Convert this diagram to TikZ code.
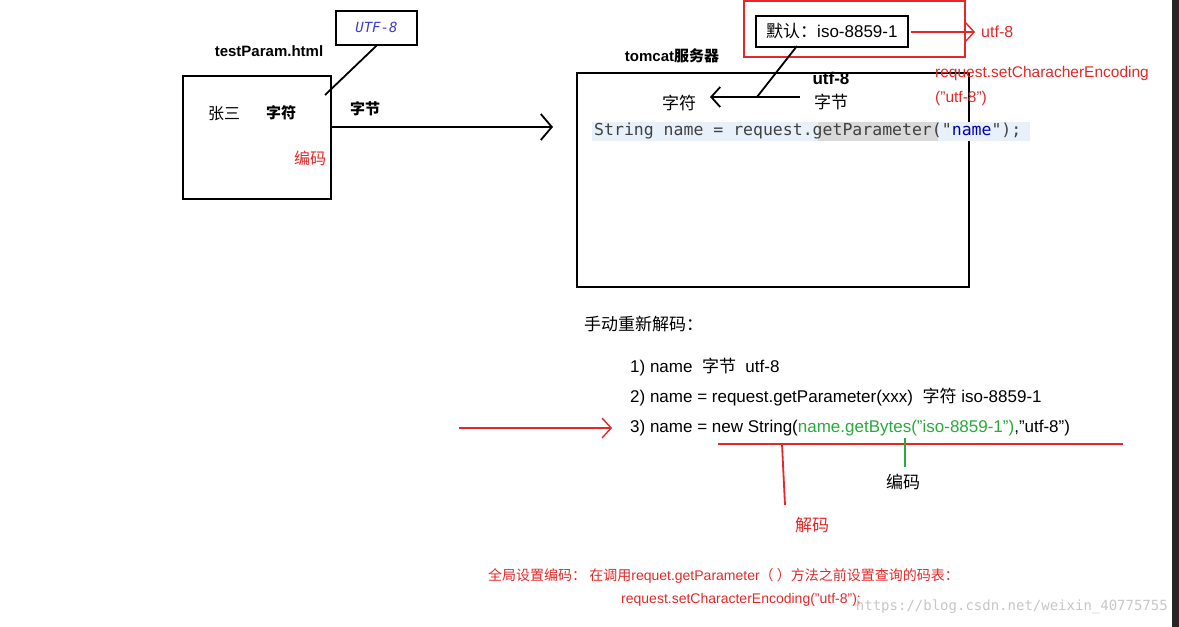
\documentclass[tikz,border=0pt]{standalone}
\usepackage{fontspec}
\setmainfont{Liberation Sans}
\newfontfamily\cjk{Noto Sans CJK SC}
\setmonofont{DejaVu Sans Mono}
\usetikzlibrary{arrows.meta}
\definecolor{redline}{RGB}{228,40,40}
\definecolor{codegreen}{RGB}{40,170,60}
\definecolor{codebg}{RGB}{232,240,250}
\newcommand{\zh}[1]{{\cjk #1}}
\begin{document}
\begin{tikzpicture}[x=1pt,y=-1pt,
  box/.style={draw=black,line width=1.8pt},
  conn/.style={line width=1.8pt},
  bigarrow/.style={conn,-{Straight Barb[length=11pt,width=26pt,line width=1.8pt]}},
  redarrow/.style={redline,line width=1.4pt,-{Straight Barb[length=9pt,width=20pt]}},
  txt/.style={font=\fontsize{16}{18}\selectfont,inner sep=1pt},
  bold/.style={txt,font=\fontsize{15}{18}\selectfont\bfseries},
  redtxt/.style={txt,text=redline}]
\useasboundingbox (0,0) rectangle (1179,627);
% client page
\node[box,minimum width=148pt,minimum height=123pt,anchor=north west] (page) at (182,75) {};
\node[bold] (pagelbl) at (269,51) {testParam.html};
\node[txt] (zs) at (224,114) {\zh{张三}};
\node[bold] (zf1) at (281,113) {\zh{\bfseries 字符}};
\node[redtxt] (enc1) at (310,158) {\zh{编码}};
\node[box,minimum width=81pt,minimum height=34pt,anchor=north west,
  font=\ttfamily\itshape\fontsize{14}{16}\selectfont,text={rgb,255:red,60;green,60;blue,220}] (utf) at (335,10) {UTF-8};
\draw[conn] (utf.south) -- (325,95);
\node[bold] (zj1) at (365,109) {\zh{\bfseries 字节}};
\coordinate (sendA) at (330,127);
\coordinate (sendB) at (553,127);
\draw[bigarrow] (sendA) -- (sendB);
% server
\node[box,minimum width=392pt,minimum height=214pt,anchor=north west] (tomcat) at (576,72) {};
\node[bold] (tomcatlbl) at (672,56) {tomcat\zh{\bfseries 服务器}};
\node[draw=redline,line width=1.8pt,minimum width=221pt,minimum height=56pt,anchor=north west] (redbox) at (743,0) {};
\node[box,minimum width=152pt,minimum height=31pt,anchor=north west,txt,font=\fontsize{17}{19}\selectfont,inner sep=0pt] (dflt) at (755,15) {\zh{默认：}iso-8859-1};
\coordinate (rA) at (911,32);
\coordinate (rB) at (975,32);
\draw[redarrow] (rA) -- (rB);
\node[redtxt,anchor=west] (rutf) at (980,32) {utf-8};
\node[redtxt,anchor=west,font=\fontsize{15.5}{18}\selectfont] (rset1) at (934,73) {request.setCharacherEncoding};
\node[redtxt,anchor=west,font=\fontsize{15.5}{18}\selectfont] (rset2) at (934,98) {("utf-8")};
\node[txt,font=\fontsize{17}{19}\selectfont] (zf2) at (679,103) {\zh{字符}};
\node[bold,font=\fontsize{17}{19}\selectfont\bfseries] (utf2) at (831,78) {utf-8};
\node[txt,font=\fontsize{17}{19}\selectfont] (zj2) at (831,102) {\zh{字节}};
\coordinate (decA) at (800,97);
\coordinate (decB) at (710,97);
\draw[bigarrow,-{Straight Barb[length=9pt,width=20pt,line width=1.8pt]}] (decA) -- (decB);
\draw[conn] (797,46) -- (757,97);
\fill[codebg] (592,122) rectangle (1030,141);
\fill[black!15] (818,122) rectangle (938,141);
\node[anchor=west,inner sep=0pt,font=\ttfamily\fontsize{16.5}{18}\selectfont,text=black!75] (code) at (594,131)
  {String name = request.getParameter("\textcolor{blue!70!black}{name}");};
% manual decoding
\node[txt,anchor=west,font=\fontsize{17}{19}\selectfont] (manual) at (583,324) {\zh{手动重新解码：}};
\node[txt,anchor=west,font=\fontsize{17}{19}\selectfont] (s1) at (629,367) {1) name\ \ \zh{字节}\ \ utf-8};
\node[txt,anchor=west,font=\fontsize{17}{19}\selectfont] (s2) at (629,397) {2) name = request.getParameter(xxx)\ \ \zh{字符} iso-8859-1};
\node[txt,anchor=west,font=\fontsize{17}{19}\selectfont] (s3) at (629,428)
  {3) name = new String(\textcolor{codegreen}{name.getBytes("iso-8859-1")},"utf-8")};
\coordinate (pA) at (459,428);
\coordinate (pB) at (612,428);
\draw[redarrow] (pA) -- (pB);
\draw[redline,line width=1.8pt] (718,444) -- (1123,444);
\draw[redline,line width=1.8pt] (782,444) -- (785,505);
\draw[codegreen,line width=1.8pt] (905,438) -- (905,467);
\node[redtxt,font=\fontsize{17}{19}\selectfont] (dec) at (812,525) {\zh{解码}};
\node[txt,font=\fontsize{17}{19}\selectfont] (enc2) at (903,482) {\zh{编码}};
% global setting
\node[redtxt,anchor=west,font=\fontsize{14}{16}\selectfont] (g1) at (487,576) {\zh{全局设置编码：\ 在调用}requet.getParameter\zh{（ ）方法之前设置查询的码表：}};
\node[redtxt,anchor=west,font=\fontsize{14}{16}\selectfont] (g2) at (620,600) {request.setCharacterEncoding("utf-8");};
\node[anchor=east,inner sep=0pt,font=\ttfamily\fontsize{14}{16}\selectfont,text=black!22] (wm) at (1168,607) {https://blog.csdn.net/weixin\_40775755};
\fill[black!85] (1172,0) rectangle (1179,627);
\end{tikzpicture}
\end{document}
